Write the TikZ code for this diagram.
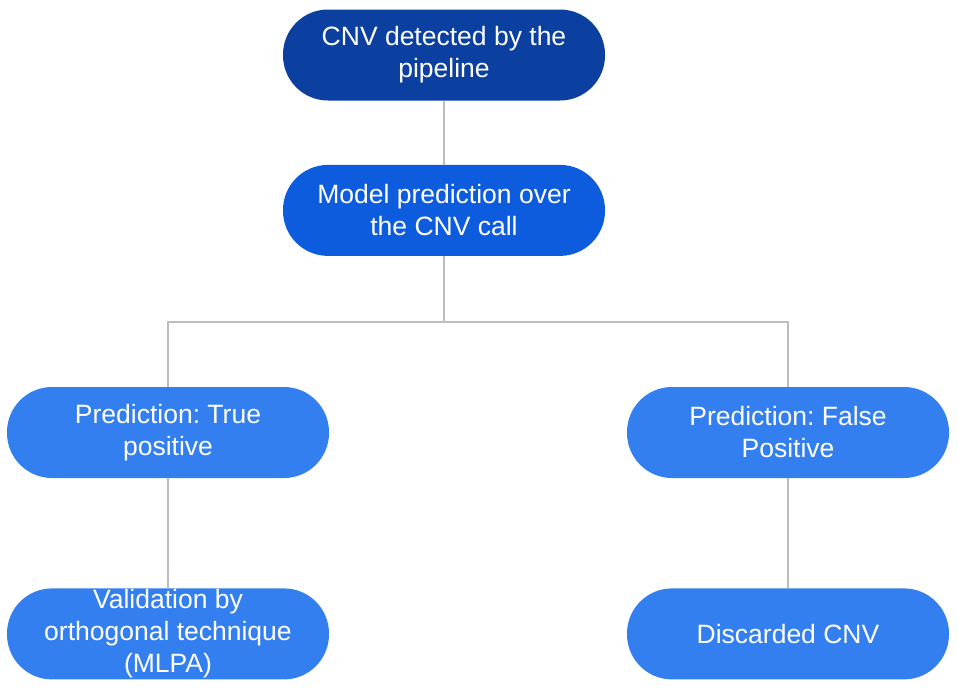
\documentclass[tikz,border=0pt]{standalone}
\usepackage{fontspec}
\setmainfont{Liberation Sans}
\usetikzlibrary{positioning}
\definecolor{darkblue}{HTML}{0C40A0}
\definecolor{midblue}{HTML}{0E5CDE}
\definecolor{lightblue}{HTML}{337FF0}
\definecolor{linegray}{HTML}{BDBDBD}
\frenchspacing
\tikzset{
  pill/.style={rectangle,rounded corners=45pt,minimum width=322pt,minimum height=91pt,
    inner sep=0pt,text=white,align=center,font=\fontsize{26.5}{32}\selectfont},
  link/.style={draw=linegray,line width=1.5pt}
}

\begin{document}
\begin{tikzpicture}[x=1pt,y=-1pt]
        \useasboundingbox (0,0) rectangle (958,694);
        \node[pill,fill=darkblue] (detect) at (444,55) {CNV detected by the\\pipeline};
        \node[pill,fill=midblue,below=64pt of detect] (model) {Model prediction over\\the CNV call};
        \node[pill,fill=lightblue] (tp) at (168,432.5) {Prediction: True\\positive};
        \node[pill,fill=lightblue] (fp) at (788,432.5) {Prediction: False\\Positive};
        \node[pill,fill=lightblue,below=110pt of tp] (valid) {Validation by\\orthogonal technique\\(MLPA)};
        \node[pill,fill=lightblue,below=110pt of fp] (discard) {Discarded CNV};
        \draw[link] (detect) -- (model);
        \draw[link] (model.south) -- ++(0,66) coordinate (split);
        \draw[link] (split) -| (tp.north);
        \draw[link] (split) -| (fp.north);
        \draw[link] (tp) -- (valid);
        \draw[link] (fp) -- (discard);
      \end{tikzpicture}
\end{document}
